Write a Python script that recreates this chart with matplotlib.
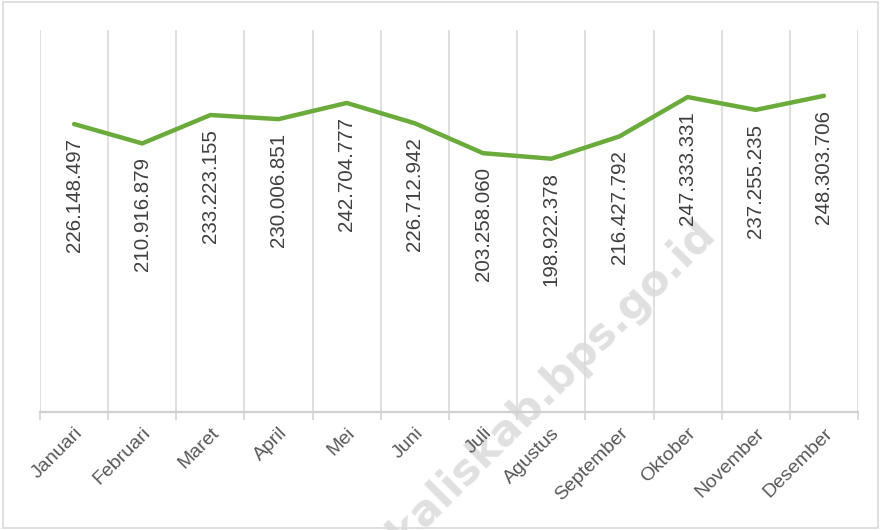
import matplotlib.pyplot as plt
from matplotlib.patches import Rectangle
from matplotlib.ticker import FixedLocator

# Monthly values (shown with Indonesian thousand separators)
months = ['Januari', 'Februari', 'Maret', 'April', 'Mei', 'Juni', 'Juli',
          'Agustus', 'September', 'Oktober', 'November', 'Desember']
values = [226148497, 210916879, 233223155, 230006851, 242704777, 226712942,
          203258060, 198922378, 216427792, 247333331, 237255235, 248303706]

fig = plt.figure(figsize=(8.81, 5.30), dpi=100)
ax = fig.add_axes([40 / 881, 118 / 530, 818 / 881, 382 / 530])

x = list(range(len(months)))
y_m = [v / 1e6 for v in values]

ax.plot(x, y_m, color='#6aab3c', linewidth=3.2, solid_joinstyle='round',
        solid_capstyle='round', zorder=3)

for xi, yi, v in zip(x, y_m, values):
    label = f'{v:,}'.replace(',', '.')
    ax.annotate(label, (xi, yi), textcoords='offset points', xytext=(0, -10),
                ha='center', va='top', rotation=90, fontsize=14.8,
                family='Liberation Sans', color='#404040', zorder=4)

ax.set_xlim(-0.5, len(months) - 0.5)
ax.set_ylim(0, 300)
ax.set_yticks([])

ax.set_xticks(x)
ax.set_xticklabels(months, rotation=45, ha='right', rotation_mode='anchor',
                   fontsize=14, family='Liberation Sans', color='#595959')
ax.tick_params(axis='x', which='major', length=0, pad=9)
ax.xaxis.set_minor_locator(FixedLocator([i - 0.5 for i in range(len(months) + 1)]))
ax.tick_params(axis='x', which='minor', length=6, width=1.2, color='#d4d4d4')
ax.grid(axis='x', which='minor', color='#d9d9d9', linewidth=1.2, zorder=0)

for side in ['top', 'left', 'right']:
    ax.spines[side].set_visible(False)
ax.spines['bottom'].set_color('#d0d0d0')
ax.spines['bottom'].set_linewidth(1.6)

# watermark, drawn under the tick labels
ax.text(708 / 881, (530 - 226) / 530, 'bengkaliskab.bps.go.id', rotation=45,
        rotation_mode='anchor', ha='right', va='center', fontsize=31,
        fontweight='bold', color='#e0e0e0', transform=fig.transFigure,
        clip_on=False, zorder=0.5)

fig.patches.append(Rectangle((3 / 881, 2 / 530), 875 / 881, 526 / 530,
                             transform=fig.transFigure, fill=False,
                             edgecolor='#d9d9d9', linewidth=1.2))

fig.savefig('out.png', dpi=100)
